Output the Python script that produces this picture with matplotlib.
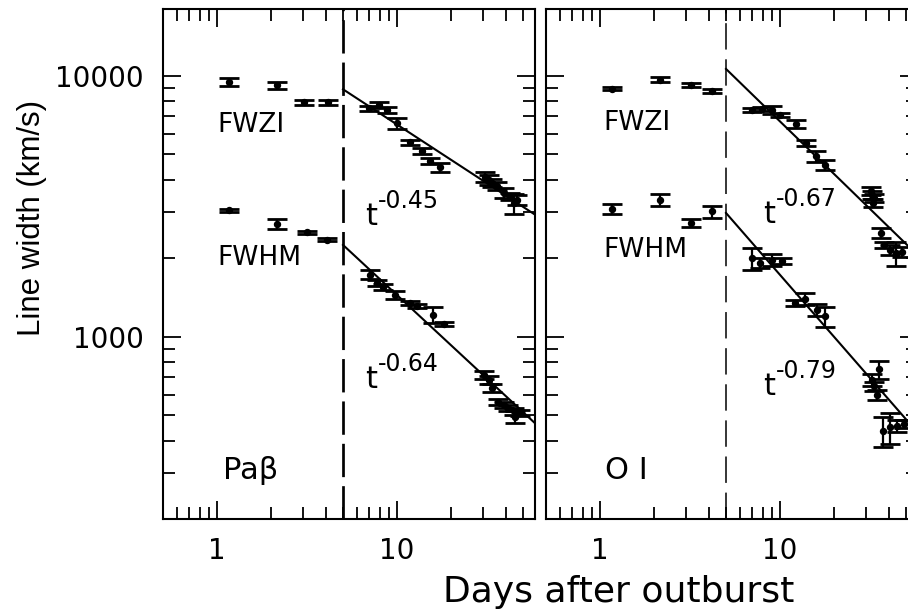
import numpy as np
import matplotlib
matplotlib.use("Agg")
import matplotlib.pyplot as plt
from matplotlib.ticker import LogLocator, FuncFormatter, NullFormatter

W, H = 908, 612

# Pa beta widths (km/s) against days after outburst
pab_fwzi_t = [1.17, 2.16, 3.05, 4.15, 6.93, 7.97, 8.77, 9.96, 11.8, 13.7, 15.3, 17.3,
              30.8, 32.2, 33.6, 35.8, 39.0, 42.4, 44.3, 46.2]
pab_fwzi = [9430, 9180, 7930, 7930, 7515, 7740, 7360, 6590, 5550, 5170, 4720, 4470,
            4110, 4000, 3880, 3770, 3560, 3450, 3250, 3350]
pab_fwzi_err = [330, 280, 175, 175, 165, 205, 195, 320, 120, 135, 125, 175,
                180, 175, 135, 135, 155, 120, 285, 150]

pab_fwhm_t = [1.17, 2.16, 3.15, 4.07, 7.02, 7.71, 8.39, 9.75, 11.8, 12.9, 15.9, 18.1,
              30.2, 32.2, 33.6, 36.5, 39.0, 41.5, 44.3, 45.2, 48.2]
pab_fwhm = [3050, 2710, 2510, 2355, 1730, 1610, 1550, 1450, 1345, 1315, 1215, 1120,
            714, 684, 635, 565, 548, 533, 518, 495, 510]
pab_fwhm_err = [40, 120, 33, 31, 66, 43, 41, 51, 24, 23, 86, 20,
                25, 24, 22, 15, 15, 14, 14, 26, 14]

# O I widths
oi_fwzi_t = [1.17, 2.16, 3.19, 4.16, 6.95, 7.91, 8.99, 10.0, 12.3, 14.0, 15.9, 17.8,
             31.8, 32.5, 33.2, 32.9, 36.1, 37.7, 41.0, 43.8, 47.7]
oi_fwzi = [8920, 9650, 9180, 8710, 7360, 7450, 7410, 7100, 6550, 5520, 4910, 4560,
           3610, 3500, 3400, 3250, 2495, 2250, 2150, 2090, 2120]
oi_fwzi_err = [118, 213, 162, 154, 130, 131, 261, 125, 231, 146, 238, 201,
               127, 123, 120, 115, 110, 60, 95, 221, 93]

oi_fwhm_t = [1.17, 2.16, 3.19, 4.16, 6.95, 7.73, 8.99, 10.2, 12.1, 13.8, 16.0, 17.8,
             32.5, 33.2, 34.6, 35.3, 37.2, 41.0, 44.8, 48.7]
oi_fwhm = [3090, 3350, 2740, 3020, 2000, 1915, 1970, 1960, 1345, 1395, 1270, 1200,
           685, 646, 600, 750, 436, 450, 455, 465]
oi_fwhm_err = [136, 177, 97, 160, 194, 84, 104, 52, 36, 74, 67, 106,
               36, 28, 26, 60, 58, 60, 24, 16]

# power-law fits A * t^-p, drawn from day 5 on
T_BREAK = 5.0
pab_fits = [(18300, 0.45), (6300, 0.64)]
oi_fits = [(31200, 0.67), (10630, 0.79)]

XLIM = (0.5, 58)
YLIM = (200, 18000)


def px_axes(fig, left, top, right, bottom):
    return fig.add_axes([left / W, 1 - bottom / H, (right - left) / W, (bottom - top) / H])


def power_label(ax, x, y, p):
    ax.text(x, y, "t", fontsize=22, va="baseline", ha="left")
    ax.annotate("-%.2f" % p, xy=(x, y), xytext=(9.5, 12), textcoords="offset points",
                fontsize=17, va="baseline", ha="left")


def draw_panel(ax, fwzi, fwhm, fits, dash_lw, dash_seq):
    for t, v, e in (fwzi, fwhm):
        ax.errorbar(t, v, yerr=e, fmt="o", color="black", ms=4.3, capsize=7,
                    capthick=2, elinewidth=1.6)
    tt = np.array([T_BREAK, 100.0])
    for amp, p in fits:
        ax.plot(tt, amp * tt ** (-p), color="black", lw=1.5)
    ax.axvline(T_BREAK, color="black", lw=dash_lw, dashes=dash_seq)

    ax.set_xscale("log")
    ax.set_yscale("log")
    ax.set_xlim(*XLIM)
    ax.set_ylim(*YLIM)
    for axis in (ax.xaxis, ax.yaxis):
        axis.set_major_locator(LogLocator(base=10))
        axis.set_minor_locator(LogLocator(base=10, subs=np.arange(2, 10)))
        axis.set_major_formatter(FuncFormatter(lambda v, _: "%g" % v))
        axis.set_minor_formatter(NullFormatter())
    ax.tick_params(which="both", direction="in", top=True, right=True, width=1.3)
    ax.tick_params(which="major", length=13, labelsize=20)
    ax.tick_params(which="minor", length=8.5)
    ax.tick_params(axis="x", pad=13)
    ax.tick_params(axis="y", pad=14)
    for s in ax.spines.values():
        s.set_linewidth(1.5)


plt.rcParams["lines.scale_dashes"] = False
fig = plt.figure(figsize=(W / 100, H / 100), dpi=100)

ax1 = px_axes(fig, 163, 9, 534.6, 519.4)
draw_panel(ax1, (pab_fwzi_t, pab_fwzi, pab_fwzi_err), (pab_fwhm_t, pab_fwhm, pab_fwhm_err),
           pab_fits, 1.95, (24, 6.5))
ax1.text(1.0, 6500, "FWZI", fontsize=19, va="center")
ax1.text(1.0, 2000, "FWHM", fontsize=19, va="center")
power_label(ax1, 6.64, 2686, pab_fits[0][1])
power_label(ax1, 6.64, 638, pab_fits[1][1])
ax1.text(1.08, 286, "Pa\u03b2", fontsize=22, va="baseline")

ax2 = px_axes(fig, 546, 9, 917.6, 519.4)
draw_panel(ax2, (oi_fwzi_t, oi_fwzi, oi_fwzi_err), (oi_fwhm_t, oi_fwhm, oi_fwhm_err),
           oi_fits, 1.1, (19, 7))
ax2.tick_params(axis="y", labelleft=False)
ax2.text(1.04, 6600, "FWZI", fontsize=19, va="center")
ax2.text(1.04, 2150, "FWHM", fontsize=19, va="center")
power_label(ax2, 8.04, 2736, oi_fits[0][1])
power_label(ax2, 8.04, 600, oi_fits[1][1])
ax2.text(1.057, 285, "O I", fontsize=22, va="baseline")

fig.text(619 / W, 1 - 602 / H, "Days after outburst", fontsize=26, ha="center", va="baseline")
fig.text(32 / W, 1 - 218 / H, "Line width (km/s)", fontsize=22.5, rotation=90,
         ha="center", va="center", family="Liberation Sans")

fig.savefig("out.png", dpi=100)
